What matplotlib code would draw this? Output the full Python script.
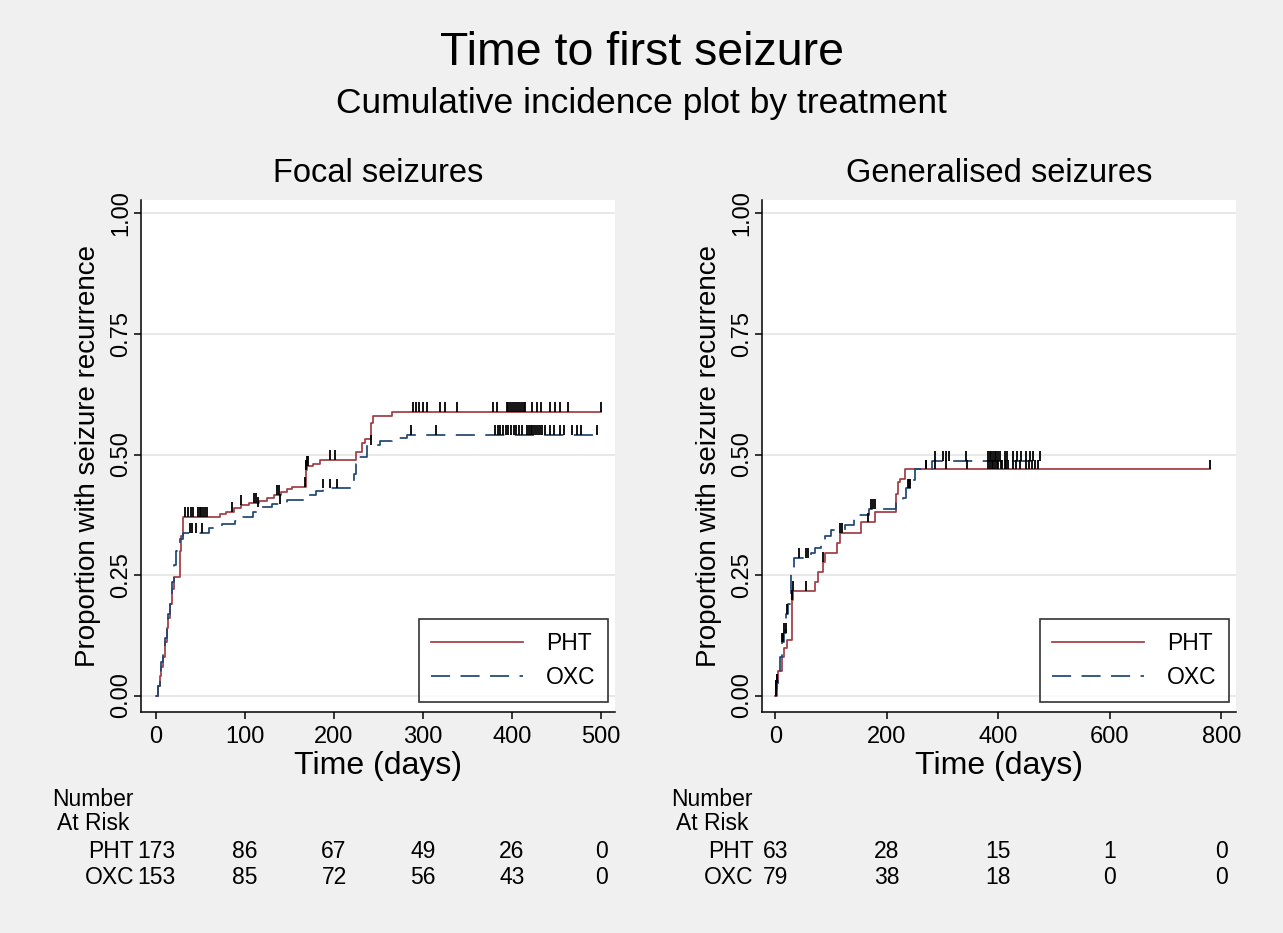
import matplotlib
matplotlib.use("Agg")
import matplotlib.pyplot as plt
import numpy as np
from matplotlib.lines import Line2D
from matplotlib import transforms

plt.rcParams['font.family'] = ['Liberation Sans', 'DejaVu Sans']

# ---------------- data ----------------
# Focal seizures, PHT
focal_pht_t = [0, 2, 4, 6, 8, 10, 12, 14, 16, 18, 20, 27, 28, 30, 72, 79, 88, 95, 105, 116,
               125, 133, 140, 147, 153, 168, 170, 176, 184, 225, 231, 235, 241, 244, 265]
focal_pht_ci = [0, .02, .04, .06, .08, .11, .14, .16, .19, .22, .245, .30, .33, .371, .376, .381,
                .388, .395, .40, .404, .409, .416, .423, .428, .433, .468, .476, .481, .489, .506,
                .524, .532, .565, .579, .589]
focal_pht_end = 500
focal_pht_cens = [33, 36, 39, 42, 47, 49, 51, 53, 55, 57, 85, 96, 110, 112, 136, 138, 167, 168,
                  169, 170, 171, 196, 201, 289, 292, 296, 300, 304, 319, 325, 338, 379, 383, 394,
                  396, 398, 400, 402, 404, 407, 409, 411, 413, 415, 422, 428, 433, 443, 448, 454,
                  463, 500]

# Focal seizures, OXC
focal_oxc_t = [0, 2, 4, 6, 8, 10, 12, 14, 16, 18, 20, 22, 24, 27, 30, 59, 74, 89, 98, 109, 115,
               130, 147, 167, 180, 188, 222, 225, 227, 237, 252, 265, 282]
focal_oxc_ci = [0, .02, .04, .07, .09, .12, .15, .17, .19, .235, .27, .30, .31, .325, .338, .347,
                .355, .363, .371, .381, .391, .398, .405, .416, .424, .43, .46, .48, .495, .52,
                .527, .534, .541]
focal_oxc_end = 497
focal_oxc_cens = [38, 41, 45, 52, 115, 139, 188, 196, 203, 242, 287, 315, 381, 384, 387, 390, 393,
                  396, 399, 402, 405, 408, 411, 417, 419, 421, 423, 425, 427, 429, 431, 434, 437,
                  443, 447, 454, 458, 467, 473, 477, 495]

# Generalised seizures, PHT
gen_pht_t = [0, 3, 5, 11, 16, 21, 29, 31, 70, 76, 85, 88, 110, 115, 154, 178, 217, 220, 224, 232]
gen_pht_ci = [0, .025, .05, .08, .098, .115, .198, .217, .236, .257, .278, .295, .316, .338, .359,
              .380, .419, .443, .449, .469]
gen_pht_end = 780
gen_pht_cens = [29, 30, 31, 55, 85, 116, 120, 166, 270, 287, 306, 343, 381, 384, 388, 391, 394, 397,
                400, 404, 407, 411, 414, 417, 426, 432, 438, 450, 455, 460, 466, 471, 780]

# Generalised seizures, OXC
gen_oxc_t = [0, 1, 2, 5, 8, 11, 15, 19, 22, 27, 28, 33, 64, 70, 82, 88, 100, 124, 141, 168, 217,
             229, 235, 247, 250, 280]
gen_oxc_ci = [0, .013, .025, .05, .08, .11, .13, .17, .19, .24, .264, .285, .295, .305, .322, .33,
              .344, .354, .374, .387, .40, .41, .43, .447, .469, .487]
gen_oxc_end = 474
gen_oxc_cens = [0.5, 1, 1.5, 2, 2.5, 12, 14, 16, 18, 20, 43, 55, 58, 172, 175, 178, 238, 240, 242,
                270, 286, 300, 306, 312, 342, 381, 384, 387, 390, 393, 396, 399, 402, 411, 416,
                426, 433, 441, 450, 456, 462, 474]

# Number at risk
focal_risk_times = [0, 100, 200, 300, 400, 500]
focal_risk_pht = [173, 86, 67, 49, 26, 0]
focal_risk_oxc = [153, 85, 72, 56, 43, 0]
gen_risk_times = [0, 200, 400, 600, 800]
gen_risk_pht = [63, 28, 15, 1, 0]
gen_risk_oxc = [79, 38, 18, 0, 0]

groups = ["PHT", "OXC"]
y_ticks = [0.0, 0.25, 0.5, 0.75, 1.0]

# ---------------- style ----------------
BG = "#f0f0f0"
RED = "#a03c42"
NAVY = "#1f4673"
W, H = 1283, 933

fig = plt.figure(figsize=(W / 100, H / 100), dpi=100, facecolor=BG)


def px_axes(x0, y0, x1, y1):
    return fig.add_axes([x0 / W, 1 - y1 / H, (x1 - x0) / W, (y1 - y0) / H])


def draw_curve(ax, t, ci, end, cens, color, dashed):
    tt = list(t) + [end]
    cc = list(ci) + [ci[-1]]
    ln, = ax.step(tt, cc, where="post", color=color, lw=1.25, zorder=3)
    if dashed:
        ln.set_dashes([11, 6])
    t_arr = np.asarray(t, dtype=float)
    c_arr = np.asarray(ci, dtype=float)
    cens = np.asarray(cens, dtype=float)
    idx = np.searchsorted(t_arr, cens, side="right") - 1
    lev = c_arr[idx]
    ax.vlines(cens, lev, lev + 0.02, color="black", lw=1.3, zorder=4)


def setup_axes(ax, xlim, xticks, title):
    ax.set_facecolor("white")
    ax.set_xlim(*xlim)
    ax.set_ylim(-0.0342, 1.028)
    ax.set_xticks(xticks)
    ax.set_yticks(y_ticks)
    ax.set_yticklabels(["%.2f" % v for v in y_ticks])
    for s in ["top", "right"]:
        ax.spines[s].set_visible(False)
    for s in ["left", "bottom"]:
        ax.spines[s].set_linewidth(1.1)
        ax.spines[s].set_color("black")
    ax.tick_params(axis="both", direction="out", length=5, width=1.1, labelsize=17)
    ax.tick_params(axis="x", pad=5)
    ax.tick_params(axis="y", pad=1.5)
    for lab in ax.get_yticklabels():
        lab.set_rotation(90)
        lab.set_rotation_mode("anchor")
        lab.set_ha("center")
        lab.set_va("bottom")
    ax.yaxis.grid(True, color="#e4e4e4", lw=1.2, zorder=0)
    ax.set_axisbelow(True)
    ax.set_xlabel("Time (days)", fontsize=23)
    ax.xaxis.label.set_va("center")
    ax.xaxis.set_label_coords(0.5, -54 / 512)
    ax.set_ylabel("Proportion with seizure recurrence", fontsize=20)
    ax.yaxis.label.set_va("center")
    ax.yaxis.set_label_coords(-53 / 474, 0.5)
    ax.text(0.5, 1 + 27 / 512, title, transform=ax.transAxes, ha="center",
            va="center", fontsize=23.5)
    handles = [Line2D([], [], color=RED, lw=1.25),
               Line2D([], [], color=NAVY, lw=1.25, dashes=[11, 6])]
    leg = ax.legend(handles, groups, loc="lower right",
                    bbox_to_anchor=(0.985, 0.0195), fontsize=16.5, frameon=True,
                    fancybox=False, edgecolor="black", handlelength=4.0,
                    handletextpad=1.0, borderpad=0.55, labelspacing=0.5,
                    borderaxespad=0)
    leg.get_frame().set_linewidth(1.2)
    leg.get_frame().set_facecolor("white")
    leg.set_zorder(10)


def risk_table(ax, times, pht, oxc):
    blend = transforms.blended_transform_factory(ax.transData, fig.transFigure)
    lab_off = blend + transforms.ScaledTranslation(-0.22, 0, fig.dpi_scale_trans)
    head_off = blend + transforms.ScaledTranslation(-1.04, 0, fig.dpi_scale_trans)
    head_off2 = blend + transforms.ScaledTranslation(-0.99, 0, fig.dpi_scale_trans)
    fs = 16.5
    ax.text(0, 1 - 800 / H, "Number", transform=head_off, ha="left", va="center",
            fontsize=fs, clip_on=False)
    ax.text(0, 1 - 824 / H, "At Risk", transform=head_off2, ha="left", va="center",
            fontsize=fs, clip_on=False)
    for yy, name, vals in [(1 - 851 / H, groups[0], pht), (1 - 877 / H, groups[1], oxc)]:
        ax.text(0, yy, name, transform=lab_off, ha="right", va="center", fontsize=fs,
                clip_on=False)
        for tv, v in zip(times, vals):
            ax.text(tv, yy, str(v), transform=blend, ha="center", va="center",
                    fontsize=fs, clip_on=False)


# Left panel
ax1 = px_axes(141, 200, 615, 712)
setup_axes(ax1, (-16.85, 515.7), focal_risk_times, "Focal seizures")
draw_curve(ax1, focal_pht_t, focal_pht_ci, focal_pht_end, focal_pht_cens, RED, False)
draw_curve(ax1, focal_oxc_t, focal_oxc_ci, focal_oxc_end, focal_oxc_cens, NAVY, True)
risk_table(ax1, focal_risk_times, focal_risk_pht, focal_risk_oxc)

# Right panel
ax2 = px_axes(762, 200, 1236, 712)
setup_axes(ax2, (-24.2, 826.2), gen_risk_times, "Generalised seizures")
draw_curve(ax2, gen_pht_t, gen_pht_ci, gen_pht_end, gen_pht_cens, RED, False)
draw_curve(ax2, gen_oxc_t, gen_oxc_ci, gen_oxc_end, gen_oxc_cens, NAVY, True)
risk_table(ax2, gen_risk_times, gen_risk_pht, gen_risk_oxc)

fig.text(0.5, 1 - 53 / H, "Time to first seizure", ha="center", va="center", fontsize=33.5)
fig.text(0.5, 1 - 104 / H, "Cumulative incidence plot by treatment", ha="center",
         va="center", fontsize=25.5)

fig.savefig("out.png", dpi=100, facecolor=BG)
